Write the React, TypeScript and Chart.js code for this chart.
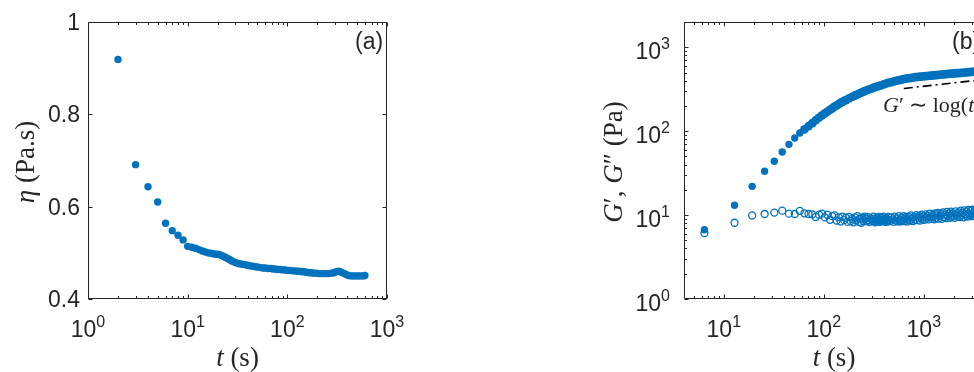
import React, { useEffect, useRef } from "react";
import { Chart, registerables } from "chart.js";
Chart.register(...registerables);

const BLUE = "#0072BD";
const AX = "#262626";

// ---------- Panel (a): viscosity vs time ----------
const etaT = [2, 3, 4, 5, 6, 7, 8, 9, 10, 11, 12, 13, 14, 15, 16, 17, 18, 19, 20, 21, 22, 23, 24, 25, 26, 27, 28,
  30, 32, 34, 36, 38, 40, 42, 45, 48, 51, 54, 57, 60, 64, 68, 72, 76, 80, 85, 90, 95, 100,
  106, 112, 118, 125, 132, 140, 148, 156, 165, 175, 185, 196, 208, 220, 233, 247, 262, 277, 293, 310, 328,
  347, 367, 388, 411, 435, 460, 487, 515, 545, 577, 600];
const etaV = [0.919, 0.691, 0.643, 0.610, 0.564, 0.548, 0.538, 0.528, 0.514, 0.512, 0.510, 0.507, 0.504, 0.502,
  0.500, 0.499, 0.498, 0.497, 0.497, 0.496, 0.494, 0.492, 0.490, 0.488, 0.486, 0.484, 0.482,
  0.479, 0.477, 0.476, 0.475, 0.474, 0.473, 0.472, 0.471, 0.470, 0.469, 0.468, 0.467, 0.467, 0.466, 0.466,
  0.465, 0.465, 0.464, 0.464, 0.463, 0.463, 0.462,
  0.462, 0.461, 0.461, 0.460, 0.460, 0.459, 0.459, 0.458, 0.457, 0.457, 0.456, 0.456, 0.455, 0.455, 0.455,
  0.455, 0.455, 0.456, 0.457, 0.459, 0.460, 0.458, 0.456, 0.453, 0.451, 0.450, 0.450, 0.450, 0.450, 0.450,
  0.450, 0.451];

const etaXMajor = [1, 10, 100, 1000];
const etaXExp = ["0", "1", "2", "3"];
const etaXMinor = [2, 3, 4, 5, 6, 7, 8, 9, 20, 30, 40, 50, 60, 70, 80, 90, 200, 300, 400, 500, 600, 700, 800, 900];
const etaYMajor = [0.4, 0.6, 0.8, 1];
const etaYLabels = ["0.4", "0.6", "0.8", "1"];

// ---------- Panel (b): moduli vs time ----------
// storage modulus G'
const storT = [6.4, 12.8, 19.2, 25.6, 32, 38.4, 44.8, 51.2, 57.6, 64, 70.4, 76.8, 83.2, 89.6, 96, 102.4,
  108.8, 115.2, 121.6, 128, 134.4, 140.8, 147.2, 153.6, 160, 166.4, 179.2, 192, 204.8, 217.6, 230.4, 243.2,
  256, 275.2, 294.4, 313.6, 332.8, 352, 371.2, 396.8, 422.4, 448, 473.6, 505.6, 537.6, 569.6, 608, 646.4,
  684.8, 729.6, 774.4, 825.6, 876.8, 928, 985.6, 1043.2, 1107.2, 1177.6, 1248, 1324.8, 1401.6, 1484.8,
  1574.4, 1670.4, 1772.8, 1881.6, 1996.8, 2118.4, 2246.4, 2380.8, 2528, 2681.6, 2841.6, 3014.4, 3193.6,
  3385.6, 3520];
const gStorage = [6.7, 13.1, 22, 33.3, 43.8, 56.5, 69.7, 82.8, 95, 105, 115, 125, 135, 145, 154, 163,
  171, 179, 187, 196, 203, 210, 218, 224, 230, 235, 246, 256, 266, 275, 284, 292,
  300, 310, 320, 329, 337, 345, 352, 361, 370, 378, 385, 393, 400, 406, 413, 420,
  426, 429, 434, 439, 443, 447, 450, 453, 456, 460, 463, 466, 469, 472,
  475, 478, 481, 484, 487, 490, 493, 496, 499, 502, 505, 508, 511,
  514, 516];
// loss modulus G''
const lossT = [6.4, 12.8, 19.2, 25.6, 32, 38.4, 44.8, 51.2, 57.6, 64, 70.4, 76.8, 83.2, 89.6, 96, 102.4,
  108.8, 115.2, 121.6, 128, 134.4, 140.8, 147.2, 153.6, 160, 166.4, 172.8, 179.2, 185.6, 192, 198.4, 204.8,
  211.2, 217.6, 224, 230.4, 236.8, 243.2, 249.6, 256,
  262.4, 268.8, 275.2, 281.6, 288, 294.4, 300.8, 307.2, 313.6, 320, 326.4, 332.8, 339.2, 345.6, 352,
  358.4, 364.8, 371.2, 377.6, 384, 390.4, 396.8, 403.2, 409.6, 416, 422.4, 428.8, 435.2, 441.6, 448,
  460.8, 473.6, 486.4, 499.2, 512, 524.8, 537.6, 550.4, 563.2, 576, 588.8, 601.6, 614.4, 627.2, 640,
  652.8, 665.6, 678.4, 691.2, 704,
  723.2, 742.4, 761.6, 780.8, 800, 819.2, 838.4, 857.6, 876.8, 896, 915.2, 934.4, 953.6, 972.8, 992,
  1017.6, 1043.2, 1068.8, 1094.4, 1120, 1145.6, 1171.2, 1196.8, 1222.4, 1248, 1273.6, 1299.2, 1324.8,
  1350.4, 1376, 1401.6,
  1440, 1478.4, 1516.8, 1555.2, 1593.6, 1632, 1670.4, 1708.8, 1747.2, 1785.6, 1824, 1862.4, 1900.8,
  1939.2, 1977.6,
  2028.8, 2080, 2131.2, 2182.4, 2233.6, 2284.8, 2336, 2387.2, 2438.4, 2489.6, 2540.8, 2592, 2643.2,
  2694.4, 2745.6, 2796.8, 2848, 2899.2, 2950.4, 3001.6,
  3065.6, 3129.6, 3193.6, 3257.6, 3321.6, 3385.6, 3449.6, 3520];
const gLoss = [6.1, 8.1, 9.9, 10.3, 10.7, 11.3, 10.4, 10.3, 11.2, 10.5, 10.3, 10.2, 9.5, 10.1, 10.4, 9.4,
  10.1, 8.8, 9.7, 9.9, 8.6, 9.4, 8.4, 9.6, 8.7, 9.3, 8.3, 9.5, 8.5, 9.0, 8.2, 9.4,
  8.6, 9.7, 8.3, 9.1, 8.1, 9.3, 8.5, 9.6,
  9.1, 8.4, 9.5, 8.7, 8.3, 9.2, 8.9, 8.5, 9.6, 8.6, 8.2, 9.0, 9.4, 8.4, 8.8,
  9.5, 8.3, 8.9, 9.3, 8.5, 8.7, 9.6, 8.4, 9.0, 8.3, 9.2, 8.8, 8.4, 9.5, 8.7,
  8.5, 9.4, 8.9, 8.3, 9.6, 8.6, 9.1, 8.4, 9.7, 8.8, 8.4, 9.3, 8.6, 9.7, 8.5,
  9.0, 9.5, 8.4, 8.9, 9.6,
  8.6, 9.9, 9.1, 8.5, 9.5, 8.8, 10.0, 8.7, 9.3, 9.8, 8.6, 9.4, 10.1, 8.9, 9.6,
  8.8, 10.2, 9.3, 9.8, 8.9, 10.4, 9.5, 9.0, 10.1, 9.6, 8.9, 10.5, 9.2,
  9.9, 10.6, 9.1,
  9.7, 10.3, 9.0, 10.8, 9.4, 10.1, 9.2, 10.9, 9.8, 10.4, 9.3, 11.0, 9.6,
  10.5, 9.9,
  9.3, 11.1, 10.2, 9.7, 10.8, 9.5, 11.3, 10.0, 10.6, 9.4, 11.4, 10.3, 9.8,
  11.0, 9.6, 11.5, 10.4, 10.0, 11.2, 9.7,
  11.6, 10.5, 9.8, 11.3, 10.1, 11.7, 10.7, 10.2];
const fitT = [631, 4000];
const fitG = [323, 413];

const modXMajor = [10, 100, 1000];
const modXExp = ["1", "2", "3"];
const modXMinor = [5, 6, 7, 8, 9, 20, 30, 40, 50, 60, 70, 80, 90, 200, 300, 400, 500, 600, 700, 800, 900, 2000, 3000, 4000];
const modYMajor = [1, 10, 100, 1000];
const modYExp = ["0", "1", "2", "3"];
const modYMinor = [2, 3, 4, 5, 6, 7, 8, 9, 20, 30, 40, 50, 60, 70, 80, 90, 200, 300, 400, 500, 600, 700, 800, 900, 2000];

// ---------- drawing helpers ----------
const TICK_FONT = '23px "Liberation Sans", Arial, sans-serif';
const SUP_FONT = '16px "Liberation Sans", Arial, sans-serif';
const SERIF = '"Liberation Serif", "Times New Roman", serif';
const LBL = `27px ${SERIF}`;
const LBL_I = `italic 27px ${SERIF}`;

type Run = { text: string; font: string; dy?: number };

function runsWidth(ctx: CanvasRenderingContext2D, runs: Run[]) {
  let w = 0;
  for (const r of runs) { ctx.font = r.font; w += ctx.measureText(r.text).width; }
  return w;
}
function drawRuns(ctx: CanvasRenderingContext2D, runs: Run[], x: number, y: number, align: "left" | "center" | "right") {
  const w = runsWidth(ctx, runs);
  let cx = align === "left" ? x : align === "center" ? x - w / 2 : x - w;
  ctx.textAlign = "left";
  ctx.textBaseline = "alphabetic";
  for (const r of runs) {
    ctx.font = r.font;
    ctx.fillText(r.text, cx, y + (r.dy || 0));
    cx += ctx.measureText(r.text).width;
  }
}
const pow10 = (e: string): Run[] => [{ text: "10", font: TICK_FONT }, { text: e, font: SUP_FONT, dy: -10 }];

type FrameCfg = {
  xMajor: number[]; xMinor: number[]; yMajor: number[]; yMinor: number[];
  xLabels: Run[][]; yLabels: Run[][]; yLabelRight: number; yLabelDy: number;
  xTitle: Run[]; yTitle: Run[]; yTitleX: number; yTitleY: number;
  panel: string; extra?: (ctx: CanvasRenderingContext2D, chart: any) => void;
};

function framePlugin(cfg: FrameCfg) {
  return {
    id: "matlabFrame",
    afterDraw(chart: any) {
      const { ctx, chartArea: a, scales } = chart;
      const xs = scales.x, ys = scales.y;
      ctx.save();
      ctx.strokeStyle = AX;
      ctx.fillStyle = AX;
      ctx.lineWidth = 1;
      const L = Math.round(a.left) + 0.5, R = Math.round(a.right) - 0.5;
      const T = Math.round(a.top) + 0.5, B = Math.round(a.bottom) - 0.5;
      ctx.beginPath();
      ctx.rect(L, T, R - L, B - T);
      const xt = (v: number, len: number) => {
        const p = Math.round(xs.getPixelForValue(v)) + 0.5;
        ctx.moveTo(p, B); ctx.lineTo(p, B - len);
        ctx.moveTo(p, T); ctx.lineTo(p, T + len);
      };
      const yt = (v: number, len: number) => {
        const p = Math.round(ys.getPixelForValue(v)) + 0.5;
        ctx.moveTo(L, p); ctx.lineTo(L + len, p);
        ctx.moveTo(R, p); ctx.lineTo(R - len, p);
      };
      cfg.xMajor.forEach((v) => xt(v, 4));
      cfg.xMinor.forEach((v) => xt(v, 2.5));
      cfg.yMajor.forEach((v) => yt(v, 4));
      cfg.yMinor.forEach((v) => yt(v, 2.5));
      ctx.stroke();

      // tick labels
      cfg.xMajor.forEach((v, i) => drawRuns(ctx, cfg.xLabels[i], xs.getPixelForValue(v), 337, "center"));
      cfg.yMajor.forEach((v, i) => drawRuns(ctx, cfg.yLabels[i], cfg.yLabelRight, ys.getPixelForValue(v) + cfg.yLabelDy, "right"));

      // axis titles
      drawRuns(ctx, cfg.xTitle, (a.left + a.right) / 2, 366, "center");
      ctx.save();
      ctx.translate(cfg.yTitleX, cfg.yTitleY);
      ctx.rotate(-Math.PI / 2);
      drawRuns(ctx, cfg.yTitle, 0, 0, "center");
      ctx.restore();

      // panel tag
      drawRuns(ctx, [{ text: cfg.panel, font: TICK_FONT }], a.right - 32, a.top + 27, "left");
      if (cfg.extra) cfg.extra(ctx, chart);
      ctx.restore();
    },
  };
}

const xTitle: Run[] = [{ text: "t", font: LBL_I }, { text: " (s)", font: LBL }];

export default function App() {
  const refA = useRef<HTMLCanvasElement>(null);
  const refB = useRef<HTMLCanvasElement>(null);

  useEffect(() => {
    const chartA = new Chart(refA.current!, {
      type: "scatter",
      data: {
        datasets: [{
          data: etaT.map((t, i) => ({ x: t, y: etaV[i] })),
          pointRadius: 3.7,
          pointBackgroundColor: BLUE,
          pointBorderWidth: 0,
          showLine: false,
        }],
      },
      options: {
        responsive: false, animation: false, devicePixelRatio: 1, events: [],
        layout: { padding: { left: 0, top: 22, right: 93, bottom: 0 } },
        plugins: { legend: { display: false }, tooltip: { enabled: false } },
        scales: {
          x: {
            type: "logarithmic", min: 1, max: 1000,
            grid: { display: false }, border: { display: false }, ticks: { display: false },
            afterFit: (s: any) => { s.height = 73; },
          },
          y: {
            type: "linear", min: 0.4, max: 1,
            grid: { display: false }, border: { display: false }, ticks: { display: false },
            afterFit: (s: any) => { s.width = 88; },
          },
        },
      },
      plugins: [framePlugin({
        xMajor: etaXMajor, xMinor: etaXMinor, yMajor: etaYMajor, yMinor: [],
        xLabels: etaXExp.map(pow10),
        yLabels: etaYLabels.map((t) => [{ text: t, font: TICK_FONT }]),
        yLabelRight: 80, yLabelDy: 8,
        xTitle,
        yTitle: [{ text: "η", font: LBL_I }, { text: " (Pa.s)", font: LBL }],
        yTitleX: 34, yTitleY: 162,
        panel: "(a)",
      })],
    } as any);

    const chartB = new Chart(refB.current!, {
      type: "scatter",
      data: {
        datasets: [
          {
            data: lossT.map((t, i) => ({ x: t, y: gLoss[i] })),
            pointRadius: 3.5,
            pointBackgroundColor: "rgba(0,0,0,0)",
            pointBorderColor: BLUE,
            pointBorderWidth: 1.3,
            showLine: false,
          },
          {
            data: storT.map((t, i) => ({ x: t, y: gStorage[i] })),
            pointRadius: (c: any) => (c.raw && c.raw.x > 60 ? 4.4 : 3.7),
            pointBackgroundColor: BLUE,
            pointBorderWidth: 0,
            showLine: false,
          },
          {
            type: "line",
            data: fitT.map((t, i) => ({ x: t, y: fitG[i] })),
            borderColor: "#000000",
            borderWidth: 1.6,
            borderDash: [9, 4, 2, 4],
            pointRadius: 0,
            fill: false,
          },
        ],
      },
      options: {
        responsive: false, animation: false, devicePixelRatio: 1, events: [],
        layout: { padding: { left: 0, top: 22, right: 16, bottom: 0 } },
        plugins: { legend: { display: false }, tooltip: { enabled: false } },
        scales: {
          x: {
            type: "logarithmic", min: 4, max: 4000,
            grid: { display: false }, border: { display: false }, ticks: { display: false },
            afterFit: (s: any) => { s.height = 73; },
          },
          y: {
            type: "logarithmic", min: 1, max: 2000,
            grid: { display: false }, border: { display: false }, ticks: { display: false },
            afterFit: (s: any) => { s.width = 194; },
          },
        },
      },
      plugins: [framePlugin({
        xMajor: modXMajor, xMinor: modXMinor, yMajor: modYMajor, yMinor: modYMinor,
        xLabels: modXExp.map(pow10),
        yLabels: modYExp.map(pow10),
        yLabelRight: 180, yLabelDy: 12,
        xTitle,
        yTitle: [
          { text: "G", font: LBL_I }, { text: "′", font: LBL }, { text: ", ", font: LBL },
          { text: "G", font: LBL_I }, { text: "″", font: LBL }, { text: " (Pa)", font: LBL },
        ],
        yTitleX: 132, yTitleY: 162,
        panel: "(b)",
        extra: (ctx) => {
          const f = `22px ${SERIF}`, fi = `italic 22px ${SERIF}`;
          drawRuns(ctx, [
            { text: "G", font: fi }, { text: "′", font: f }, { text: " ∼ ", font: f },
            { text: "log(", font: f }, { text: "t", font: fi }, { text: ")", font: f },
          ], 393, 112, "left");
        },
      })],
    } as any);

    return () => { chartA.destroy(); chartB.destroy(); };
  }, []);

  return (
    <div style={{ position: "fixed", left: 0, top: 0, width: 974, height: 372, overflow: "hidden", background: "#fff" }}>
      <canvas ref={refA} width={480} height={372} style={{ position: "absolute", left: 0, top: 0, width: 480, height: 372 }} />
      <canvas ref={refB} width={510} height={372} style={{ position: "absolute", left: 490, top: 0, width: 510, height: 372 }} />
    </div>
  );
}
